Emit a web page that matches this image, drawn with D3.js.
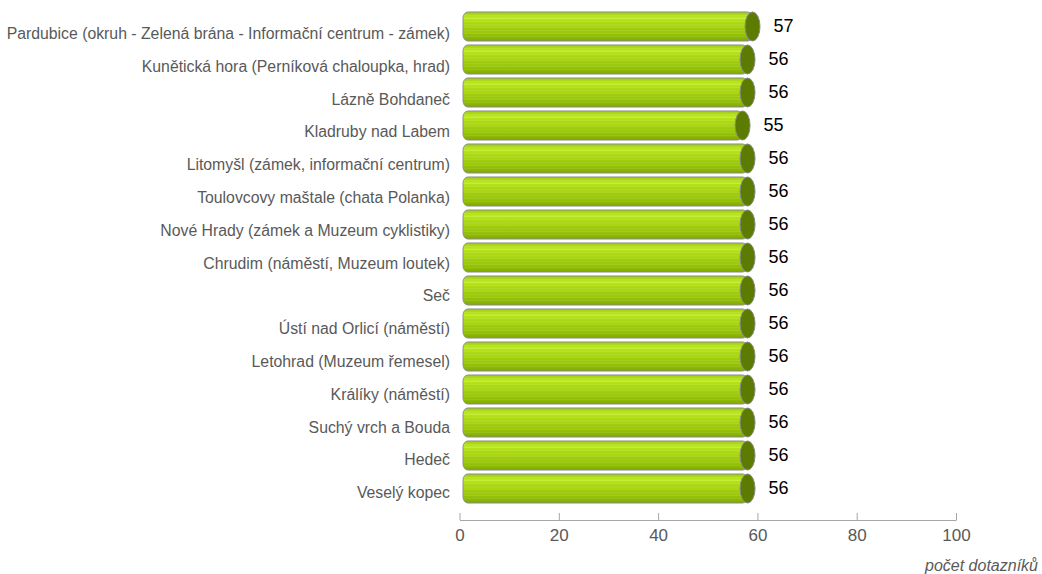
<!DOCTYPE html>
<html>
<head>
<meta charset="utf-8">
<script src="https://cdn.jsdelivr.net/npm/d3@7"></script>
<style>
  html, body { margin: 0; padding: 0; background: #fff; }
  svg { display: block; font-family: "Liberation Sans", Arial, sans-serif; }
</style>
</head>
<body>
<svg id="chart" width="1042" height="574"></svg>
<script>
const categories = [
  "Pardubice (okruh - Zelená brána - Informační centrum - zámek)",
  "Kunětická hora (Perníková chaloupka, hrad)",
  "Lázně Bohdaneč",
  "Kladruby nad Labem",
  "Litomyšl (zámek, informační centrum)",
  "Toulovcovy maštale (chata Polanka)",
  "Nové Hrady (zámek a Muzeum cyklistiky)",
  "Chrudim (náměstí, Muzeum loutek)",
  "Seč",
  "Ústí nad Orlicí (náměstí)",
  "Letohrad (Muzeum řemesel)",
  "Králíky (náměstí)",
  "Suchý vrch a Bouda",
  "Hedeč",
  "Veselý kopec"
];
const values = [57, 56, 56, 55, 56, 56, 56, 56, 56, 56, 56, 56, 56, 56, 56];
const xTicks = [0, 20, 40, 60, 80, 100];
const axisTitle = "počet dotazníků";

const svg = d3.select("#chart");
const x = d3.scaleLinear().domain([0, 100]).range([459.5, 956]);
const y = d3.scaleBand().domain(categories).range([10, 505]).paddingInner(0.12).paddingOuter(0.06);
const yLab = d3.scaleBand().domain(categories).range([17, 509]);

// gradient for cylinder body
const defs = svg.append("defs");
const g = defs.append("linearGradient").attr("id", "cyl").attr("x1", 0).attr("y1", 0).attr("x2", 0).attr("y2", 1);
[
  [0, "#9cc810"], [0.08, "#acd916"], [0.16, "#b8e41e"], [0.22, "#c1eb2c"], [0.26, "#b5e11a"],
  [0.34, "#afdc16"], [0.42, "#a8d513"], [0.48, "#acd816"], [0.55, "#a1ce0e"], [0.63, "#9bc80b"],
  [0.70, "#9eca0d"], [0.78, "#94c108"], [0.86, "#8eba06"], [0.93, "#87b203"], [1, "#7ca400"]
].forEach(([o, c]) => g.append("stop").attr("offset", o).attr("stop-color", c));

// subtle stripe pattern
const pat = defs.append("pattern").attr("id", "stripes").attr("width", 6).attr("height", 3)
  .attr("patternUnits", "userSpaceOnUse");
pat.append("rect").attr("width", 6).attr("height", 1).attr("fill", "#ffffff").attr("opacity", 0.08);

const capOffset = 10, capRx = 7.5;
const bars = svg.append("g").selectAll("g.bar").data(categories).join("g").attr("class", "bar");

bars.append("rect")
  .attr("x", x(0) + 3.5)
  .attr("y", d => y(d))
  .attr("width", (d, i) => x(values[i]) + capOffset - (x(0) + 3.5))
  .attr("height", y.bandwidth())
  .attr("rx", 5).attr("ry", 6)
  .attr("fill", "url(#cyl)")
  .attr("stroke", "#8e8e8e").attr("stroke-width", 1);

bars.append("rect")
  .attr("x", x(0) + 5)
  .attr("y", d => y(d) + 2)
  .attr("width", (d, i) => x(values[i]) + capOffset - (x(0) + 5))
  .attr("height", y.bandwidth() - 4)
  .attr("fill", "url(#stripes)");

bars.append("ellipse")
  .attr("cx", (d, i) => x(values[i]) + capOffset)
  .attr("cy", d => y(d) + y.bandwidth() / 2)
  .attr("rx", capRx)
  .attr("ry", y.bandwidth() / 2)
  .attr("fill", "#5b7c00")
  .attr("stroke", "#8a8a8a").attr("stroke-width", 1);

// category labels
svg.append("g").selectAll("text").data(categories).join("text")
  .attr("x", 450)
  .attr("y", d => yLab(d) + yLab.bandwidth() / 2)
  .attr("text-anchor", "end")
  .attr("dominant-baseline", "central")
  .attr("font-size", 15.8)
  .attr("fill", "#595959")
  .text(d => d);

// value labels
svg.append("g").selectAll("text").data(categories).join("text")
  .attr("x", (d, i) => x(values[i]) + 41)
  .attr("y", d => y(d) + y.bandwidth() / 2 - 1)
  .attr("text-anchor", "middle")
  .attr("dominant-baseline", "central")
  .attr("font-size", 18)
  .attr("fill", "#000")
  .text((d, i) => values[i]);

// x axis
const axis = svg.append("g").attr("transform", "translate(0,520)")
  .call(d3.axisBottom(x).tickValues(xTicks).tickSizeInner(-7).tickSizeOuter(0).tickPadding(9));
axis.select(".domain").attr("stroke", "#a6a6a6");
axis.selectAll(".tick line").attr("stroke", "#a6a6a6");
axis.selectAll(".tick text").attr("font-size", 17).attr("fill", "#595959")
  .attr("font-family", "'Liberation Sans', Arial, sans-serif");

svg.append("text")
  .attr("x", 1038).attr("y", 565)
  .attr("text-anchor", "end")
  .attr("dominant-baseline", "central")
  .attr("font-size", 16)
  .attr("font-style", "italic")
  .attr("fill", "#595959")
  .text(axisTitle);
</script>
</body>
</html>
